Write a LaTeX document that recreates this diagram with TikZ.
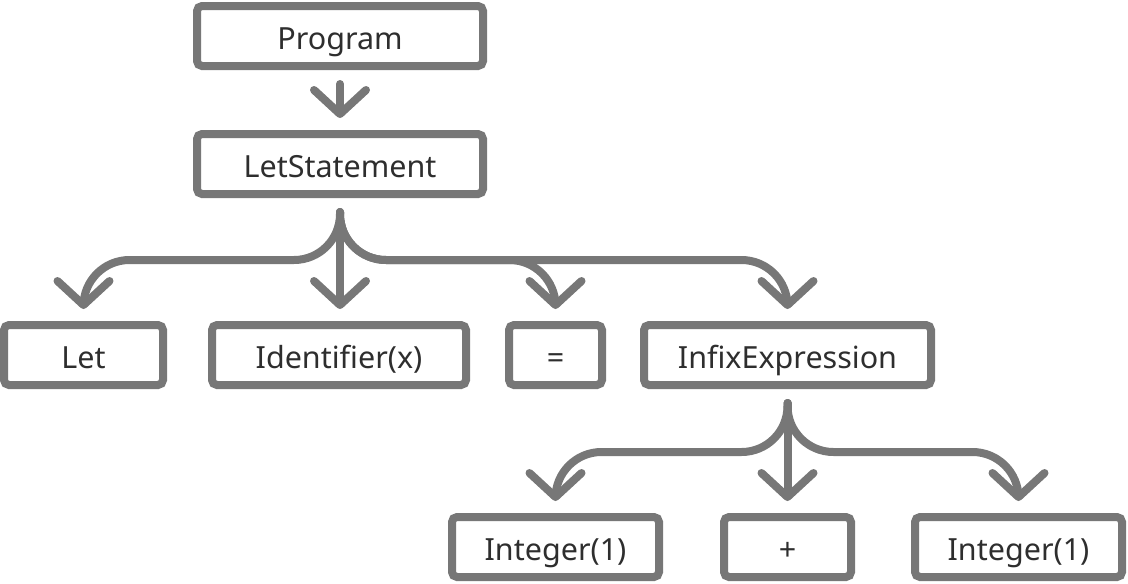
\documentclass[tikz,border=0pt]{standalone}
\usepackage{fontspec}
\setmainfont{Noto Sans}
\usetikzlibrary{positioning, arrows.meta}
\definecolor{edgegray}{HTML}{777777}
\definecolor{textgray}{HTML}{2E2E2E}

\begin{document}
\begin{tikzpicture}[x=1pt, y=-1pt, node distance=60pt,
    every node/.style={draw=edgegray, line width=8pt, rounded corners=5pt, fill=white, text=textgray,
      minimum height=60pt, inner sep=0pt, text height=26pt, text depth=0pt,
      font=\fontsize{30.5}{34}\selectfont},
    link/.style={draw=edgegray, line width=8pt, line cap=round, rounded corners=46pt,
      -{Straight Barb[length=24pt, width=52pt, round]}}]
    \useasboundingbox (0,0) rectangle (1128,584);

    \node (prog) [minimum width=286pt] at (340,36) {Program};
    \node (ls) [minimum width=286pt, below=of prog] {LetStatement};

    \node (let) [minimum width=159pt] at (83.5,355) {Let};
    \node (id) [minimum width=254pt, right=41pt of let] {Identifier(x)};
    \node (eq) [minimum width=93pt, right=35pt of id] {=};
    \node (infix) [minimum width=287pt, right=34pt of eq] {InfixExpression};

    \node (int1) [minimum width=207pt] at (555.5,547) {Integer(1)};
    \node (plus) [minimum width=127pt, right=57pt of int1] {+};
    \node (int2) [minimum width=207pt, right=56pt of plus] {Integer(1)};

    \draw[link, shorten <=14pt, shorten >=12pt] (prog) -- (ls);

    % branches of the let statement
    \draw[link, shorten <=14pt, shorten >=12pt] (ls.south) -- ++(0,62) -| (let.north);
    \draw[link, shorten <=14pt, shorten >=12pt] (ls.south) -- (ls.south |- id.north);
    \draw[link, shorten <=14pt, shorten >=12pt] (ls.south) -- ++(0,62) -| (eq.north);
    \draw[link, shorten <=14pt, shorten >=12pt] (ls.south) -- ++(0,62) -| (infix.north);

    % branches of the infix expression
    \draw[link, shorten <=14pt, shorten >=12pt] (infix.south) -- ++(0,63) -| (int1.north);
    \draw[link, shorten <=14pt, shorten >=12pt] (infix.south) -- (infix.south |- plus.north);
    \draw[link, shorten <=14pt, shorten >=12pt] (infix.south) -- ++(0,63) -| (int2.north);
\end{tikzpicture}
\end{document}
